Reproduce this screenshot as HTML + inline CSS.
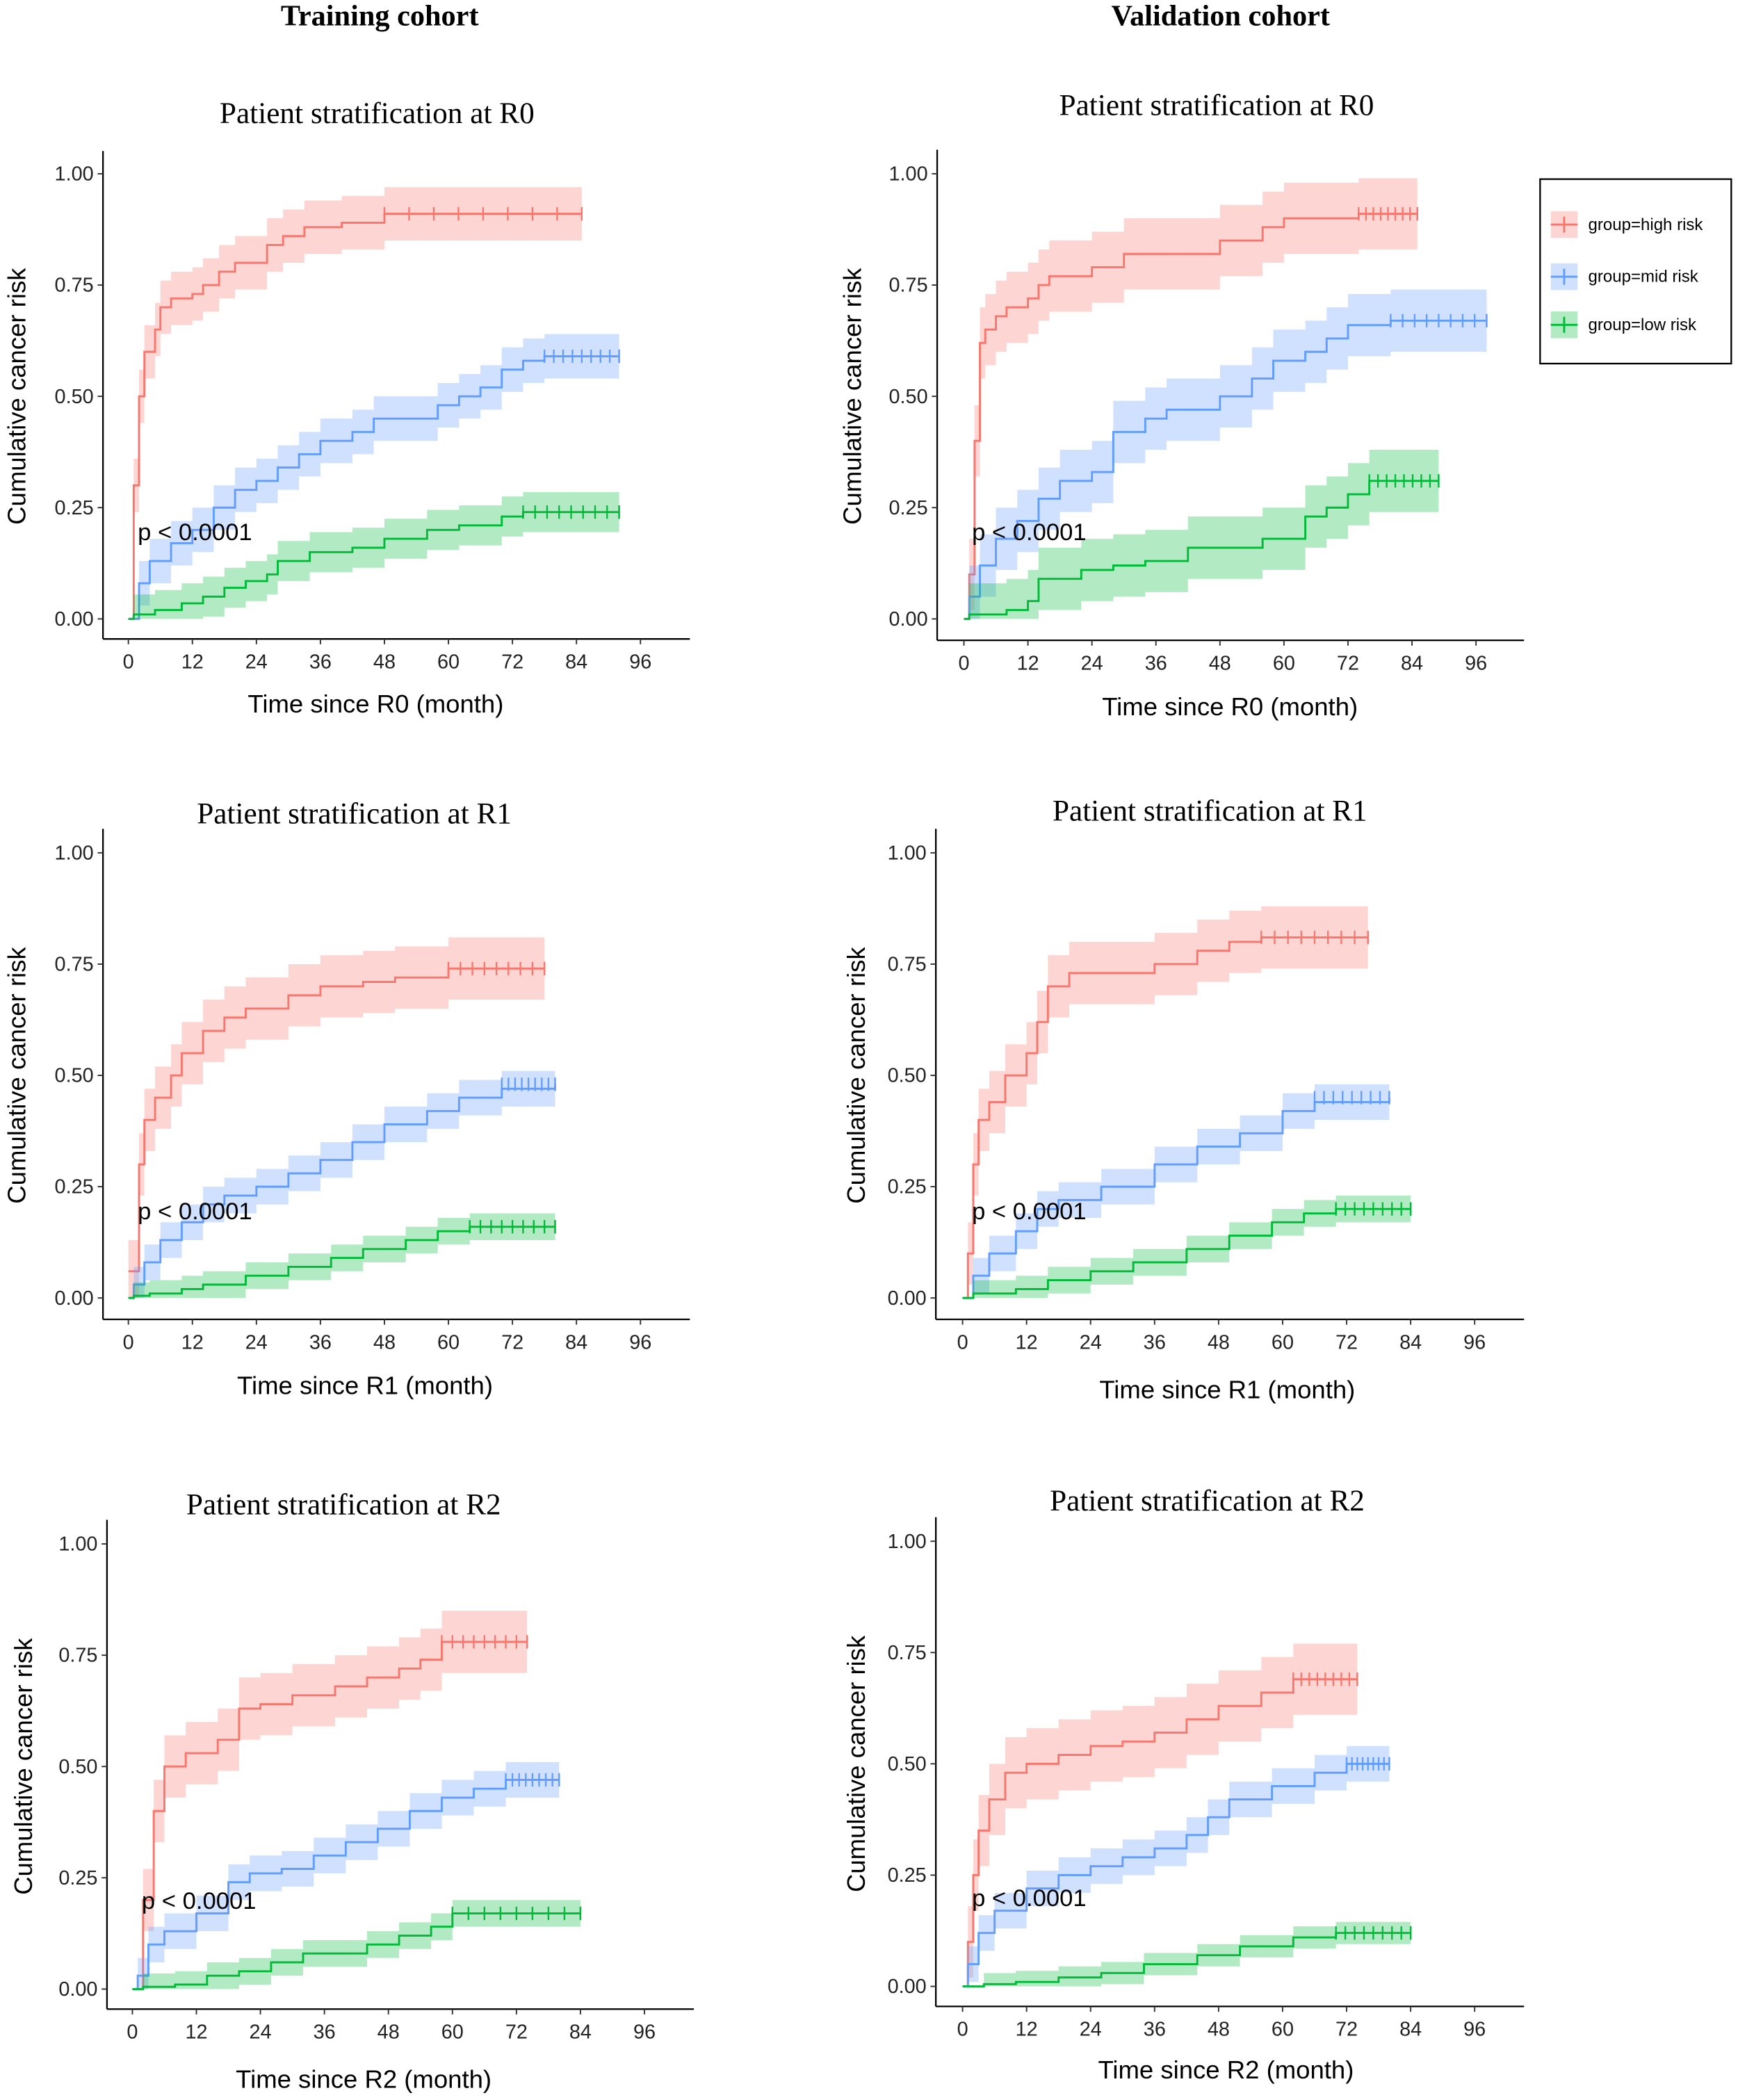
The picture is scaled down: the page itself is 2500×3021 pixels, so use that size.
<!DOCTYPE html>
<html><head><meta charset="utf-8"><style>
html,body{margin:0;padding:0;background:#fff}
svg{display:block}
text{font-family:"Liberation Sans",sans-serif}
.serif{font-family:"Liberation Serif",serif}
</style></head><body>
<svg id="fig" width="2500" height="3021" viewBox="0 0 1300 1571" xmlns="http://www.w3.org/2000/svg">
<text class="serif" x="284" y="19" font-size="22" font-weight="bold" text-anchor="middle">Training cohort</text>
<text class="serif" x="913" y="19" font-size="22" font-weight="bold" text-anchor="middle">Validation cohort</text>
<g>
<rect x="1152" y="134" width="143" height="138" fill="#fff" stroke="#000" stroke-width="1.2"/>
<g><rect x="1160" y="158" width="20" height="20" fill="#F8766D" fill-opacity="0.3"/><line x1="1160" y1="168" x2="1180" y2="168" stroke="#F8766D" stroke-width="1.5"/><line x1="1170" y1="162" x2="1170" y2="174" stroke="#F8766D" stroke-width="1.5"/><text x="1188" y="172" font-size="12.5">group=high risk</text></g>
<g><rect x="1160" y="197" width="20" height="20" fill="#619CFF" fill-opacity="0.3"/><line x1="1160" y1="207" x2="1180" y2="207" stroke="#619CFF" stroke-width="1.5"/><line x1="1170" y1="201" x2="1170" y2="213" stroke="#619CFF" stroke-width="1.5"/><text x="1188" y="211" font-size="12.5">group=mid risk</text></g>
<g><rect x="1160" y="233" width="20" height="20" fill="#00BA38" fill-opacity="0.3"/><line x1="1160" y1="243" x2="1180" y2="243" stroke="#00BA38" stroke-width="1.5"/><line x1="1170" y1="237" x2="1170" y2="249" stroke="#00BA38" stroke-width="1.5"/><text x="1188" y="247" font-size="12.5">group=low risk</text></g>
</g>
</svg>
<script>
const xTicks = [0,12,24,36,48,60,72,84,96];
const yTicks = [0,0.25,0.5,0.75,1.0];
const yTickLabels = ["0.00","0.25","0.50","0.75","1.00"];
const panelTitles = ["Patient stratification at R0","Patient stratification at R0","Patient stratification at R1","Patient stratification at R1","Patient stratification at R2","Patient stratification at R2"];
const xTitles = ["Time since R0 (month)","Time since R0 (month)","Time since R1 (month)","Time since R1 (month)","Time since R2 (month)","Time since R2 (month)"];
const highTL = [[0,0],[1,0.3],[2,0.5],[3,0.6],[5,0.65],[6,0.7],[8,0.72],[12,0.73],[14,0.75],[17,0.78],[20,0.8],[26,0.84],[29,0.86],[33,0.88],[40,0.89],[48,0.91],[85,0.91]];
const midTL = [[0,0],[2,0.08],[4,0.13],[8,0.17],[12,0.2],[16,0.25],[20,0.29],[24,0.31],[28,0.34],[32,0.37],[36,0.4],[42,0.42],[46,0.45],[54,0.45],[58,0.48],[62,0.5],[66,0.52],[70,0.56],[74,0.58],[78,0.59],[92,0.59]];
const lowTL = [[0,0],[1,0.01],[5,0.02],[10,0.035],[14,0.05],[18,0.07],[22,0.085],[26,0.1],[28,0.13],[34,0.15],[42,0.16],[48,0.18],[56,0.2],[62,0.21],[70,0.23],[74,0.24],[92,0.24]];
const highTR = [[0,0],[1,0.1],[2,0.4],[3,0.62],[4,0.65],[6,0.68],[8,0.7],[12,0.72],[14,0.75],[16,0.77],[24,0.79],[30,0.82],[48,0.85],[56,0.88],[60,0.9],[74,0.91],[85,0.91]];
const midTR = [[0,0],[1,0.05],[3,0.12],[6,0.18],[10,0.22],[14,0.27],[18,0.31],[24,0.33],[28,0.42],[34,0.45],[38,0.47],[48,0.5],[54,0.54],[58,0.58],[64,0.6],[68,0.63],[72,0.66],[80,0.67],[98,0.67]];
const lowTR = [[0,0],[1,0.01],[8,0.02],[12,0.04],[14,0.09],[22,0.11],[28,0.12],[34,0.13],[42,0.16],[56,0.18],[64,0.23],[68,0.25],[72,0.28],[76,0.31],[89,0.31]];
const highML = [[0,0.06],[2,0.3],[3,0.4],[5,0.45],[8,0.5],[10,0.55],[14,0.6],[18,0.63],[22,0.65],[30,0.68],[36,0.7],[44,0.71],[50,0.72],[60,0.74],[78,0.74]];
const midML = [[0,0],[1,0.03],[3,0.08],[6,0.13],[10,0.17],[14,0.21],[18,0.23],[24,0.25],[30,0.28],[36,0.31],[42,0.35],[48,0.39],[56,0.42],[62,0.45],[70,0.47],[80,0.48]];
const lowML = [[0,0],[1,0.005],[4,0.01],[10,0.02],[14,0.03],[22,0.05],[30,0.07],[38,0.09],[44,0.11],[52,0.13],[58,0.15],[64,0.16],[80,0.16]];
const highMR = [[0,0],[1,0.1],[2,0.3],[3,0.4],[5,0.44],[8,0.5],[12,0.55],[14,0.62],[16,0.7],[20,0.73],[36,0.75],[44,0.78],[50,0.8],[56,0.81],[76,0.81]];
const midMR = [[0,0],[2,0.05],[5,0.1],[10,0.15],[14,0.2],[18,0.22],[26,0.25],[36,0.3],[44,0.34],[52,0.37],[60,0.42],[66,0.44],[80,0.45]];
const lowMR = [[0,0],[2,0.01],[10,0.02],[16,0.04],[24,0.06],[32,0.08],[42,0.11],[50,0.14],[58,0.17],[64,0.19],[70,0.2],[84,0.2]];
const highBL = [[0,0],[2,0.2],[4,0.4],[6,0.5],[10,0.53],[16,0.56],[20,0.63],[24,0.64],[30,0.66],[38,0.68],[44,0.7],[50,0.72],[54,0.74],[58,0.78],[74,0.78]];
const midBL = [[0,0],[1,0.03],[3,0.1],[6,0.13],[12,0.17],[18,0.24],[22,0.26],[28,0.27],[34,0.3],[40,0.33],[46,0.36],[52,0.4],[58,0.43],[64,0.45],[70,0.47],[80,0.47]];
const lowBL = [[0,0],[2,0.005],[8,0.01],[14,0.03],[20,0.04],[26,0.06],[32,0.08],[44,0.1],[50,0.12],[56,0.14],[60,0.17],[84,0.17]];
const highBR = [[0,0],[1,0.1],[2,0.25],[3,0.35],[5,0.42],[8,0.48],[12,0.5],[18,0.52],[24,0.54],[30,0.55],[36,0.57],[42,0.6],[48,0.63],[56,0.66],[62,0.69],[74,0.69]];
const midBR = [[0,0],[1,0.05],[3,0.12],[6,0.17],[12,0.22],[18,0.25],[24,0.27],[30,0.29],[36,0.31],[42,0.34],[46,0.38],[50,0.42],[58,0.45],[66,0.48],[72,0.5],[80,0.5]];
const lowBR = [[0,0],[4,0.005],[10,0.01],[18,0.02],[26,0.03],[34,0.05],[44,0.07],[52,0.09],[62,0.11],[70,0.12],[84,0.12]];
const ciTL = [0.06,0.05,0.045];
const ciTR = [0.08,0.07,0.07];
const ciML = [0.07,0.04,0.03];
const ciMR = [0.07,0.04,0.03];
const ciBL = [0.07,0.04,0.03];
const ciBR = [0.08,0.04,0.025];

const panels = [
 {n:"tl",x0:96,y0:463,y1:130,axX:77,axY:478,top:113,right:516,title:[282,92],xt:[281,533],yt:13,series:[highTL,midTL,lowTL],ci:ciTL,p:[103,404]},
 {n:"tr",x0:721,y0:463,y1:130,axX:701,axY:479,top:112,right:1140,title:[910,86],xt:[920,535],yt:638,series:[highTR,midTR,lowTR],ci:ciTR,p:[727,404]},
 {n:"ml",x0:96,y0:971,y1:638,axX:77,axY:987,top:620,right:516,title:[265,616],xt:[273,1043],yt:13,series:[highML,midML,lowML],ci:ciML,p:[103,912]},
 {n:"mr",x0:720,y0:971,y1:638,axX:700,axY:987,top:620,right:1140,title:[905,614],xt:[918,1046],yt:641,series:[highMR,midMR,lowMR],ci:ciMR,p:[727,912]},
 {n:"bl",x0:99,y0:1488,y1:1155,axX:80,axY:1503,top:1137,right:519,title:[257,1133],xt:[272,1562],yt:18,series:[highBL,midBL,lowBL],ci:ciBL,p:[106,1428]},
 {n:"br",x0:720,y0:1486,y1:1153,axX:700,axY:1501,top:1135,right:1140,title:[903,1130],xt:[917,1555],yt:641,series:[highBR,midBR,lowBR],ci:ciBR,p:[727,1426]}
];
const colors = ["#F8766D","#619CFF","#00BA38"];
const names = ["high-risk","mid-risk","low-risk"];
const NS = "http://www.w3.org/2000/svg";
const svg = document.getElementById("fig");
function mk(tag, attrs, parent){const e=document.createElementNS(NS,tag);for(const k in attrs)e.setAttribute(k,attrs[k]);(parent||svg).appendChild(e);return e;}
const PPM = 3.99;
panels.forEach((P,i)=>{
  const g = mk("g",{});
  
  
  const xs = m => P.x0 + m*PPM;
  const ys = v => P.y0 - v*(P.y0-P.y1);
  P.series.forEach((s,k)=>{
    const hw = P.ci[k];
    let up="", lo="";
    for(let j=0;j<s.length;j++){
      const t=s[j][0], v=s[j][1], tn = j<s.length-1 ? s[j+1][0] : s[j][0];
      const u = Math.min(1, v + (v>0?hw:0)), l = Math.max(0, v - (v>0?hw:0));
      up += (j===0?"M":"L")+xs(t)+","+ys(u)+" L"+xs(tn)+","+ys(u)+" ";
      lo = "L"+xs(tn)+","+ys(l)+" L"+xs(t)+","+ys(l)+" " + lo;
    }
    const band = mk("path",{d:up+lo+"Z",fill:colors[k],"fill-opacity":"0.3",stroke:"none"},g);
    
    
    let d="";
    for(let j=0;j<s.length;j++){
      const t=s[j][0], v=s[j][1];
      d += (j===0?"M"+xs(t)+","+ys(v):" H"+xs(t)+" V"+ys(v));
    }
    const line = mk("path",{d:d,fill:"none",stroke:colors[k],"stroke-width":"1.5"},g);
    
    
    const last = s[s.length-1], prev = s[s.length-2];
    const cm = [];
    for(let t=prev[0]; t<=last[0]; t+= Math.max(1,(last[0]-prev[0])/8)) cm.push([t,last[1]]);
    cm.push(last);
    cm.forEach(c=>{
      const m = mk("line",{x1:xs(c[0]),x2:xs(c[0]),y1:ys(c[1])-5,y2:ys(c[1])+5,stroke:colors[k],"stroke-width":"1.2"},g);
      
      
    });
  });
  const ya = mk("line",{x1:P.axX,x2:P.axX,y1:P.top,y2:P.axY,stroke:"#000","stroke-width":"1.2"},g);
  
  
  const xa = mk("line",{x1:P.axX,x2:P.right,y1:P.axY,y2:P.axY,stroke:"#000","stroke-width":"1.2"},g);
  
  
  yTicks.forEach((v,j)=>{
    mk("line",{x1:P.axX-4,x2:P.axX,y1:ys(v),y2:ys(v),stroke:"#333","stroke-width":"1"},g);
    const t = mk("text",{x:P.axX-7,y:ys(v)+5,"font-size":"15","text-anchor":"end",fill:"#222"},g);
    t.textContent = yTickLabels[j];
    
    
  });
  xTicks.forEach(m=>{
    mk("line",{x1:xs(m),x2:xs(m),y1:P.axY,y2:P.axY+4,stroke:"#333","stroke-width":"1"},g);
    const t = mk("text",{x:xs(m),y:P.axY+22,"font-size":"15","text-anchor":"middle",fill:"#222"},g);
    t.textContent = m;
    
    
  });
  const tt = mk("text",{x:P.title[0],y:P.title[1],"font-size":"22.5","text-anchor":"middle",class:"serif"},g);
  tt.textContent = panelTitles[i];
  
  
  const xt = mk("text",{x:P.xt[0],y:P.xt[1],"font-size":"19","text-anchor":"middle"},g);
  xt.textContent = xTitles[i];
  
  
  const yc = (P.y0+P.y1)/2;
  const yt = mk("text",{x:P.yt,y:yc,"font-size":"19","text-anchor":"middle",transform:"rotate(-90 "+P.yt+" "+yc+")",dy:"6"},g);
  yt.textContent = "Cumulative cancer risk";
  
  
  const pv = mk("text",{x:P.p[0],y:P.p[1],"font-size":"18"},g);
  pv.textContent = "p < 0.0001";
  
  
});
</script>
</body></html>
